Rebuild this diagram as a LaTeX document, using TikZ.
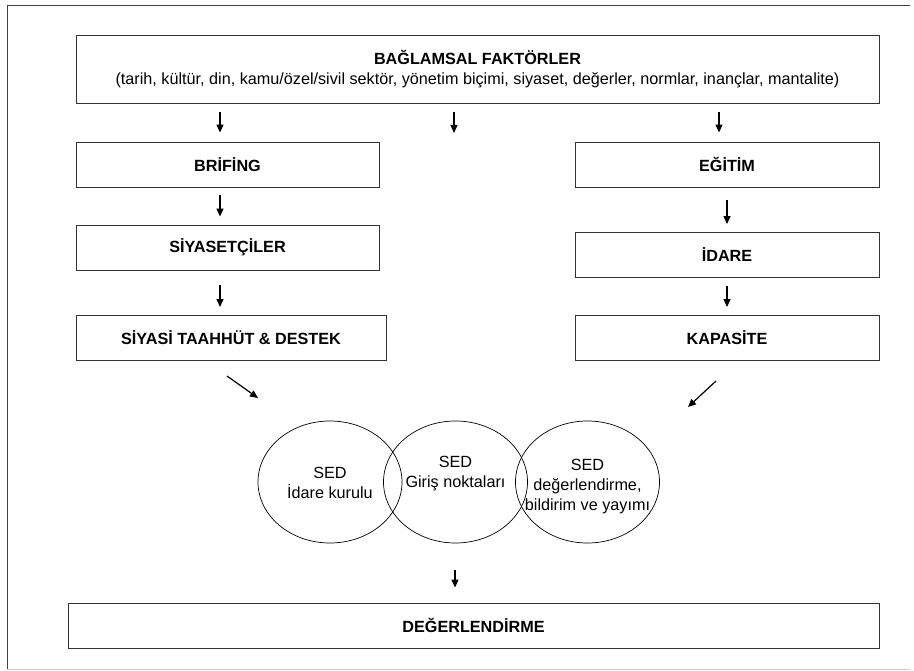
\documentclass[tikz,border=0pt]{standalone}
\usepackage{fontspec}
\setmainfont{Liberation Sans}
\usetikzlibrary{arrows.meta,positioning,shapes.geometric}

\begin{document}
\begin{tikzpicture}[
  x=1pt,y=-1pt,
  font=\fontsize{16.2}{20}\selectfont,
  box/.style={rectangle,draw=black!80,line width=0.9pt,align=center,minimum height=45pt,inner sep=0pt,font=\fontsize{16.2}{20}\selectfont\bfseries},
  sed/.style={ellipse,draw,line width=0.7pt,minimum width=144pt,minimum height=122pt,inner sep=0pt},
  arr/.style={-{Triangle[length=8pt,width=7pt]},line width=1.2pt}
]
\useasboundingbox (0,0) rectangle (914,671);
% frame
\draw[black!75,line width=0.8pt] (7,669) -- (7,5) -- (910,5);
\draw[black!20,line width=0.8pt] (7,669) -- (910,669);

\node[box,minimum width=803pt,minimum height=68pt,font=\fontsize{16.2}{20}\selectfont] (factors) at (477.5,69)
  {{\bfseries BAĞLAMSAL FAKTÖRLER}\\(tarih, kültür, din, kamu/özel/sivil sektör, yönetim biçimi, siyaset, değerler, normlar, inançlar, mantalite)};
\node[box,minimum width=303pt] (brifing) at (227.5,164.5) {BRİFİNG};
\node[box,minimum width=303pt] (siyaset) at (227.5,247.5) {SİYASETÇİLER};
\node[box,minimum width=310pt] (taahhut) at (231,338) {SİYASİ TAAHHÜT \& DESTEK};
\node[box,minimum width=304pt] (egitim) at (727,164.5) {EĞİTİM};
\node[box,minimum width=304pt] (idare) at (727,255) {İDARE};
\node[box,minimum width=304pt] (kapasite) at (727,338) {KAPASİTE};
\node[sed] (sedkurul) at (330,482) {};
\node[sed] (sedgiris) at (455.5,482) {};
\node[sed] (sedyayim) at (587.5,482) {};
\node[align=center] at ([yshift=-1pt]sedkurul) {SED\\İdare kurulu};
\node[align=center] at ([yshift=8pt]sedgiris) {SED\\Giriş noktaları};
\node[align=center] at ([yshift=-5pt]sedyayim) {SED\\değerlendirme,\\bildirim ve yayımı};
\node[box,minimum width=811pt] (deger) at (473.5,625.5) {DEĞERLENDİRME};

\coordinate (midtip) at (454,133);
\coordinate (ltail) at (227,376);
\coordinate (lhead) at (258,398);
\coordinate (rtail) at (716,381);
\coordinate (rhead) at (688,407);

\draw[arr,shorten <=9pt,shorten >=9pt] ([xshift=-7.5pt]brifing.north |- factors.south) -- ([xshift=-7.5pt]brifing.north);
\draw[arr,shorten <=9pt] (factors.south -| midtip) -- (midtip);
\draw[arr,shorten <=9pt,shorten >=9pt] ([xshift=-8pt]egitim.north |- factors.south) -- ([xshift=-8pt]egitim.north);
\draw[arr,shorten <=8pt,shorten >=8pt] ([xshift=-7.5pt]brifing.south) -- ([xshift=-7.5pt]siyaset.north);
\draw[arr,shorten <=15pt,shorten >=8pt] ([xshift=-7.5pt]siyaset.south) -- ([xshift=-7.5pt]siyaset.south |- taahhut.north);
\draw[arr,shorten <=13pt,shorten >=8pt] (egitim) -- (idare);
\draw[arr,shorten <=8pt,shorten >=8pt] (idare) -- (kapasite);
\draw[arr] (ltail) -- (lhead);
\draw[arr] (rtail) -- (rhead);
\draw[arr,shorten <=27pt,shorten >=15pt] ([xshift=-0.5pt]sedgiris.south) -- ([xshift=-0.5pt]sedgiris.south |- deger.north);
\end{tikzpicture}
\end{document}
